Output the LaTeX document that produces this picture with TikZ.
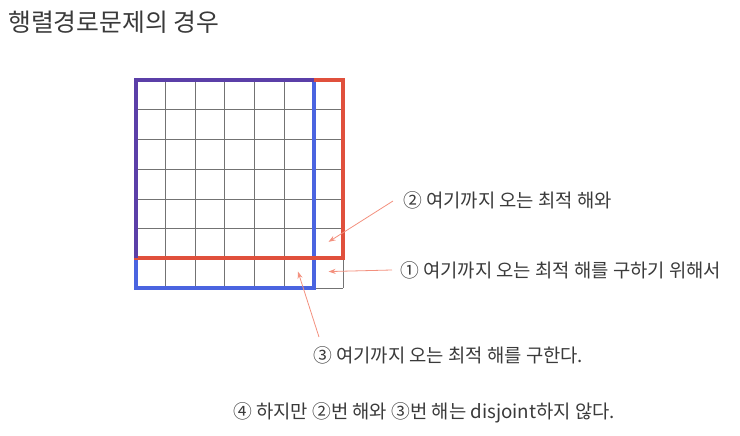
\documentclass[tikz,border=0pt]{standalone}
\usepackage{fontspec}
\setmainfont{Noto Sans CJK KR}
\usetikzlibrary{positioning,arrows.meta}
\definecolor{redline}{HTML}{E0503C}
\definecolor{blueline}{HTML}{4A64E0}
\definecolor{bothline}{HTML}{5B3FA8}
\definecolor{pointer}{HTML}{F3907E}
\definecolor{txt}{HTML}{3A3A3A}
\tikzset{
  note/.style={anchor=west, text=txt, inner sep=0pt, font=\fontsize{18.8}{20}\selectfont},
  pointer/.style={draw=pointer, line width=0.8pt, -{Stealth[length=7pt,width=5pt]}},
  path/.style={line width=4pt},
}
\begin{document}
\begin{tikzpicture}[x=1pt, y=-1pt]
	\useasboundingbox (0,0) rectangle (740,436);
	\node (title)[anchor=west, text=txt, inner sep=0pt, font=\fontsize{24.8}{26}\selectfont] at (8,22) {행렬경로문제의 경우};

	% the matrix
	\begin{scope}[shift={(135.5,80)}, x=29.7pt, y=-29.7pt]
		\foreach \i in {0,...,7}{
				\draw [black!55, line width=0.5pt](\i,0)--(\i,7);
				\draw [black!55, line width=0.5pt](0,\i)--(7,\i);
			}
		\draw [path, blueline](0,0) rectangle (6,7);
		\draw [path, redline](0,0) rectangle (7,6);
		\draw [path, bothline](0,6)--(0,0)--(6,0);

		\coordinate (last) at (6.5,6.45);
		\coordinate (up) at (6.5,5.45);
		\coordinate (left) at (5.47,6.45);
	\end{scope}

	\node (two)[note] at (403,200) {② 여기까지 오는 최적 해와};
	\node (one)[note] at (400,270) {① 여기까지 오는 최적 해를 구하기 위해서};
	\node (three)[note] at (313,355) {③ 여기까지 오는 최적 해를 구한다.};
	\node (four)[note] at (233,413) {④ 하지만 ②번 해와 ③번 해는 disjoint하지 않다.};

	\draw [pointer]([xshift=-8pt]one.west)--(last);
	\draw [pointer]([xshift=-10pt,yshift=-1pt]two.west)--(up);
	\draw [pointer]([xshift=6pt,yshift=9pt]three.north west)--(left);
\end{tikzpicture}
\end{document}
